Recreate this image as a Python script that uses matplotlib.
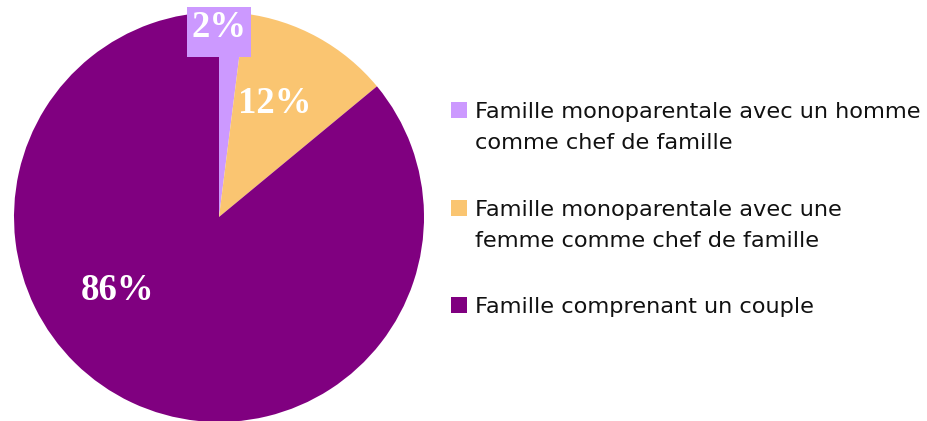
import matplotlib
matplotlib.use("Agg")
import matplotlib.pyplot as plt
from matplotlib.patches import Rectangle

# Data
labels = [
    ["Famille monoparentale avec un homme", "comme chef de famille"],
    ["Famille monoparentale avec une", "femme comme chef de famille"],
    ["Famille comprenant un couple"],
]
values = [2, 12, 86]
pct_labels = ["2%", "12%", "86%"]
colors = ["#CC99FF", "#FAC571", "#800080"]

W, H = 928, 421
fig = plt.figure(figsize=(W / 100, H / 100), dpi=100)

# pie axes: centre (219, 217) px, radius 205 px
cx, cy, r = 219, H - 217, 205
ax = fig.add_axes([(cx - r) / W, (cy - r) / H, 2 * r / W, 2 * r / H])
wedges, _ = ax.pie(values, colors=colors, startangle=90, counterclock=False,
                   radius=1.0, wedgeprops=dict(linewidth=0))
ax.set_xlim(-1, 1)
ax.set_ylim(-1, 1)
ax.set_aspect("equal")
ax.axis("off")

# box behind the small "2%" label
ax.add_patch(Rectangle((-0.156, 0.78), 0.312, 0.244, fc=colors[0], ec="none",
                       clip_on=False, zorder=3))

label_font = dict(family=["Liberation Serif", "DejaVu Serif"], weight="bold",
                  size=26.5, color="white", ha="center", va="center", zorder=4)
label_pos = [(0.0, 0.925), (0.273, 0.555), (-0.495, -0.36)]
for txt, pos in zip(pct_labels, label_pos):
    ax.text(pos[0], pos[1], txt, clip_on=False, **label_font)

# legend, drawn by hand so the swatch sits on the first line
baselines = [118, 216, 313]
line_step = 31
for lines, base, col in zip(labels, baselines, colors):
    fig.patches.append(Rectangle((451 / W, 1 - base / H), 16 / W, 16 / H,
                                 transform=fig.transFigure, fc=col, ec="none"))
    for i, line in enumerate(lines):
        fig.text(475 / W, 1 - (base + i * line_step) / H, line,
                 fontsize=16.2, color="#111111", va="baseline", ha="left")

fig.savefig("out.png", dpi=100)
